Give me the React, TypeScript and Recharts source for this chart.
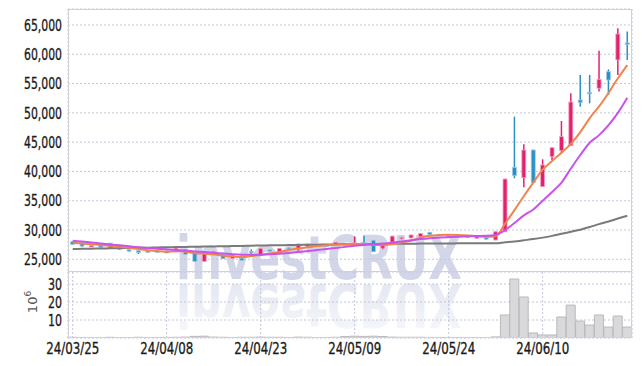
import React from "react";
import { ComposedChart, Bar, Line, XAxis, YAxis, CartesianGrid } from "recharts";

// 거래일 (24/03/25 ~ 24/06/21)
const dates = [
  "24/03/25", "24/03/26", "24/03/27", "24/03/28", "24/03/29", "24/04/01", "24/04/02", "24/04/03", "24/04/04", "24/04/05",
  "24/04/08", "24/04/09", "24/04/11", "24/04/12", "24/04/15", "24/04/16", "24/04/17", "24/04/18", "24/04/19", "24/04/22",
  "24/04/23", "24/04/24", "24/04/25", "24/04/26", "24/04/29", "24/04/30", "24/05/02", "24/05/03", "24/05/07", "24/05/08",
  "24/05/09", "24/05/10", "24/05/13", "24/05/14", "24/05/16", "24/05/17", "24/05/20", "24/05/21", "24/05/22", "24/05/23",
  "24/05/24", "24/05/27", "24/05/28", "24/05/29", "24/05/30", "24/05/31", "24/06/03", "24/06/04", "24/06/05", "24/06/07",
  "24/06/10", "24/06/11", "24/06/12", "24/06/13", "24/06/14", "24/06/17", "24/06/18", "24/06/19", "24/06/20", "24/06/21",
];

const opens = [
  28000, 27750, 27200, 27300, 27750, 27000, 26650, 26450, 26400, 26400,
  26350, 26250, 26650, 26000, 24650, 26300, 25800, 25150, 25200, 26350,
  25750, 26600, 26150, 26900, 26750, 27150, 27450, 27450, 27550, 27650,
  27650, 27900, 28250, 26900, 27900, 28650, 28650, 28850, 29600, 29150,
  29000, 29200, 29050, 28600, 28700, 28300, 29700, 40700, 38930, 43660,
  37400, 42520, 43540, 44390, 52200, 53500, 54200, 57030, 59030, 61950,
];
const highs = [
  28100, 27900, 27450, 27350, 27800, 27100, 26700, 26500, 26450, 26450,
  26500, 27000, 26700, 26050, 26400, 26450, 25850, 25700, 25250, 26700,
  26900, 26650, 26900, 27000, 27650, 27650, 27550, 27500, 27950, 27700,
  28900, 29000, 28300, 27750, 29000, 28850, 29200, 29450, 29650, 29300,
  29150, 29250, 29100, 29000, 28750, 29750, 38750, 49350, 44630, 43700,
  42070, 44100, 48610, 53340, 56470, 56470, 60620, 57440, 64440, 63880,
];
const lows = [
  27450, 27150, 27150, 27050, 26900, 26600, 26350, 25900, 26200, 26200,
  26050, 26200, 25800, 24600, 24600, 25700, 25050, 25100, 24750, 25900,
  25700, 26400, 26100, 26700, 26450, 27100, 27250, 27100, 27500, 27450,
  27500, 27750, 26250, 26700, 27850, 28400, 28600, 28800, 29200, 29100,
  28950, 29050, 28650, 28550, 28350, 28250, 29650, 38830, 37290, 37970,
  37350, 41950, 43100, 44350, 51050, 51630, 53630, 53050, 56470, 59030,
];
const closes = [
  27550, 27250, 27350, 27150, 26950, 26850, 26400, 26150, 26300, 26300,
  26250, 26900, 25850, 24650, 26300, 26000, 25100, 25600, 24800, 26250,
  26850, 26500, 26850, 26800, 27600, 27600, 27350, 27350, 27900, 27550,
  27800, 27800, 26300, 27700, 28950, 28750, 29150, 29400, 29250, 29250,
  29100, 29100, 28700, 28950, 28450, 29700, 38700, 39270, 43660, 38080,
  41100, 44050, 45930, 51850, 51740, 53400, 55730, 55610, 63470, 61850,
];

// 이동평균선
const ma5 = [
  27830, 27700, 27560, 27420, 27300, 27150, 26950, 26750, 26550, 26400,
  26300, 26400, 26300, 26050, 25950, 25850, 25600, 25500, 25380, 25560,
  25750, 26000, 26250, 26600, 26850, 27050, 27250, 27400, 27500, 27560,
  27600, 27650, 27450, 27450, 27550, 27850, 28150, 28700, 29000, 29150,
  29200, 29150, 29050, 28950, 28850, 28950, 31100, 33400, 35800, 38100,
  40300, 41800, 43200, 44700, 46700, 49100, 51100, 53400, 55900, 58170,
];
const ma10 = [
  28180, 28020, 27860, 27700, 27540, 27380, 27220, 27060, 26920, 26800,
  26700, 26600, 26480, 26350, 26230, 26110, 25980, 25870, 25790, 25760,
  25780, 25850, 25950, 26080, 26230, 26400, 26580, 26760, 26930, 27120,
  27300, 27450, 27550, 27680, 27850, 28020, 28250, 28450, 28600, 28700,
  28780, 28860, 28920, 28960, 29000, 29150, 30000, 31200, 32500, 33500,
  35000, 36500, 38100, 40500, 42800, 44900, 46200, 47900, 50000, 52590,
];
const ma60 = [
  26760, 26790, 26820, 26850, 26870, 26900, 26930, 26960, 26990, 27020,
  27050, 27080, 27110, 27140, 27170, 27200, 27230, 27260, 27290, 27320,
  27350, 27380, 27400, 27430, 27450, 27480, 27500, 27520, 27540, 27560,
  27580, 27600, 27610, 27620, 27640, 27650, 27660, 27680, 27690, 27700,
  27710, 27720, 27730, 27730, 27740, 27750, 27900, 28050, 28250, 28450,
  28700, 29000, 29350, 29700, 30050, 30500, 31000, 31450, 31950, 32440,
];

// 거래량 (백만 주)
const volumes = [
  0.4, 0.3, 0.3, 0.3, 0.4, 0.3, 0.3, 0.4, 0.3, 0.3,
  0.3, 0.4, 0.5, 0.9, 1.0, 0.5, 0.4, 0.3, 0.4, 0.4,
  0.5, 0.4, 0.4, 0.3, 0.5, 0.4, 0.3, 0.3, 0.4, 0.8,
  1.0, 0.9, 1.0, 0.8, 0.5, 0.4, 0.4, 0.4, 0.3, 0.3,
  0.3, 0.3, 0.3, 0.3, 0.3, 0.6, 12.8, 32.8, 22.8, 2.8,
  1.7, 1.7, 11.7, 18.3, 9.4, 7.2, 12.8, 6.1, 12.2, 6.1,
];

const priceTicks = [25000, 30000, 35000, 40000, 45000, 50000, 55000, 60000, 65000];
const volumeTicks = [10, 20, 30];
const dateTicks = ["24/03/25", "24/04/08", "24/04/23", "24/05/09", "24/05/24", "24/06/10"];

const UP = "#e3206c";
const UP_EDGE = "#f3a3c3";
const DOWN = "#2c8fc6";
const DOWN_EDGE = "#9fcbe6";
const GRID = "#c2c7db";
const FRAME = "#cfd0d8";
const FONT = "'DejaVu Sans', sans-serif";

const rows = dates.map((d, i) => ({
  date: d,
  range: [lows[i], highs[i]],
  open: opens[i],
  close: closes[i],
  high: highs[i],
  low: lows[i],
  ma5: ma5[i],
  ma10: ma10[i],
  ma60: ma60[i],
  volume: volumes[i],
}));

// 캔들: 고가~저가 범위 막대 안에서 시가/종가 위치를 비율로 잡는다
function Candle(props: any) {
  const { x, y, width, height, payload } = props;
  if (x == null || y == null) return null;
  const top = Math.min(y, y + height);
  const h = Math.abs(height);
  const span = payload.high - payload.low || 1;
  const py = (v: number) => top + ((payload.high - v) / span) * h;
  const up = payload.close >= payload.open;
  const color = up ? UP : DOWN;
  const edge = up ? UP_EDGE : DOWN_EDGE;
  const bTop = py(Math.max(payload.open, payload.close));
  const bBot = py(Math.min(payload.open, payload.close));
  const cx = x + width / 2;
  return (
    <g>
      <line x1={cx} x2={cx} y1={top} y2={top + h} stroke={color} strokeWidth={1.5} />
      <rect
        x={x}
        y={bTop}
        width={width}
        height={Math.max(bBot - bTop, 1.5)}
        fill={color}
        stroke={edge}
        strokeWidth={0.8}
      />
    </g>
  );
}

// 좁은 글꼴 느낌을 내기 위해 글자 폭을 직접 맞춘다
function narrowWidth(s: string) {
  let w = 0;
  for (const ch of s) w += ch === "," ? 3 : ch === "/" ? 5.5 : 7;
  return w;
}

function NarrowTick(props: any) {
  const { x, y, payload, textAnchor, side, formatter } = props;
  const label = formatter ? formatter(payload.value) : String(payload.value);
  return (
    <text
      x={x}
      y={y}
      dy={side === "bottom" ? "0.71em" : "0.36em"}
      textAnchor={textAnchor}
      fontFamily={FONT}
      fontSize={16}
      fill="#1a1a1a"
      stroke="#1a1a1a"
      strokeWidth={0.35}
      textLength={narrowWidth(label)}
      lengthAdjust="spacingAndGlyphs"
    >
      {label}
    </text>
  );
}

const fmtPrice = (v: number) => v.toLocaleString("en-US");

function Watermark() {
  return (
    <svg width={642} height={366} style={{ position: "absolute", left: 0, top: 0 }}>
      <defs>
        <linearGradient id="fade" x1="0" y1="0" x2="0" y2="1">
          <stop offset="0" stopColor="#e0e3ef" stopOpacity={0.2} />
          <stop offset="1" stopColor="#e0e3ef" stopOpacity={1} />
        </linearGradient>
      </defs>
      <text
        x={176}
        y={279}
        fontFamily={FONT}
        fontWeight="bold"
        fontSize={60}
        fill="#d2d6e8"
        textLength={286}
        lengthAdjust="spacingAndGlyphs"
      >
        investCRUX
      </text>
      <g transform="translate(0,563) scale(1,-1)">
        <text
          x={176}
          y={279}
          fontFamily={FONT}
          fontWeight="bold"
          fontSize={60}
          fill="url(#fade)"
          textLength={286}
          lengthAdjust="spacingAndGlyphs"
        >
          investCRUX
        </text>
      </g>
    </svg>
  );
}

export default function App() {
  return (
    <div style={{ position: "absolute", left: 0, top: 0, width: 642, height: 366, background: "#fff" }}>
      <Watermark />

      {/* 가격 영역 */}
      <div style={{ position: "absolute", left: 0, top: 0 }}>
        <ComposedChart width={642} height={272} data={rows} margin={{ top: 9, right: 10, bottom: 0, left: 0 }} barCategoryGap="28%">
          <CartesianGrid stroke={GRID} strokeDasharray="2 2" />
          <XAxis dataKey="date" ticks={dateTicks} interval={0} tick={false} tickLine={false} axisLine={false} height={0} />
          <YAxis
            domain={[22830, 67730]}
            ticks={priceTicks}
            interval={0}
            allowDataOverflow
            width={68}
            tickLine={false}
            axisLine={false}
            tickSize={4}
            tickMargin={2}
            tick={<NarrowTick side="left" formatter={fmtPrice} />}
          />
          <Bar dataKey="range" shape={<Candle />} isAnimationActive={false} />
          <Line type="monotone" dataKey="ma60" stroke="#7a7a7a" strokeWidth={2} dot={false} isAnimationActive={false} />
          <Line type="monotone" dataKey="ma5" stroke="#f0844a" strokeWidth={2} dot={false} isAnimationActive={false} />
          <Line type="monotone" dataKey="ma10" stroke="#c952ea" strokeWidth={2} dot={false} isAnimationActive={false} />
        </ComposedChart>
      </div>

      {/* 거래량 영역 */}
      <div style={{ position: "absolute", left: 0, top: 272 }}>
        <ComposedChart width={642} height={94} data={rows} margin={{ top: 0, right: 10, bottom: 0, left: 0 }} barCategoryGap={0}>
          <CartesianGrid stroke={GRID} strokeDasharray="2 2" />
          <XAxis
            dataKey="date"
            ticks={dateTicks}
            interval={0}
            height={28}
            tickLine={false}
            axisLine={false}
            tickSize={3}
            tickMargin={2}
            tick={<NarrowTick side="bottom" />}
          />
          <YAxis
            domain={[0, 36.7]}
            ticks={volumeTicks}
            interval={0}
            allowDataOverflow
            width={68}
            tickLine={false}
            axisLine={false}
            tickSize={4}
            tickMargin={2}
            tick={<NarrowTick side="left" />}
          />
          <Bar dataKey="volume" fill="#d9d9db" stroke="#b9b9bd" strokeWidth={1} isAnimationActive={false} />
        </ComposedChart>
      </div>

      {/* 테두리 */}
      <div style={{ position: "absolute", left: 68, top: 9, width: 564, height: 329, border: `1px solid ${FRAME}`, boxSizing: "border-box", pointerEvents: "none" }} />
      <div style={{ position: "absolute", left: 68, top: 271, width: 564, height: 0, borderTop: `1.5px solid ${FRAME}` }} />

      {/* 거래량 단위 */}
      <svg width={40} height={60} style={{ position: "absolute", left: 16, top: 280 }}>
        <text transform="translate(21,22) rotate(-90)" fontFamily={FONT} fontSize={13} fill="#555" textAnchor="middle">
          10<tspan dy={-6} fontSize={9}>6</tspan>
        </text>
      </svg>
    </div>
  );
}
